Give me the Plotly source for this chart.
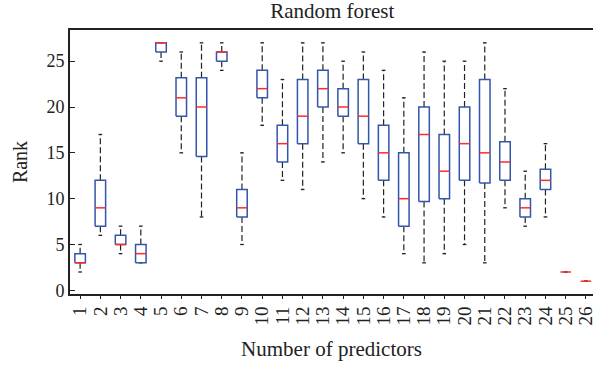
import plotly.graph_objects as go

categories = list(range(1, 27))
mins = [2, 6, 4, 3, 25, 15, 8, 24, 5, 18, 12, 11, 14, 15, 10, 8, 4, 3, 4, 5, 3, 9, 7, 8, 2, 1]
q1s = [3, 7, 5, 3, 26, 19, 14.6, 25, 8, 21, 14, 16, 20, 19, 16, 12, 7, 9.7, 10, 12, 11.7, 12, 8, 11, 2, 1]
medians = [3, 9, 5, 4, 27, 21, 20, 26, 9, 22, 16, 19, 22, 20, 19, 15, 10, 17, 13, 16, 15, 14, 9, 12, 2, 1]
q3s = [4, 12, 6, 5, 27, 23.2, 23.2, 26, 11, 24, 18, 23, 24, 22, 23, 18, 15, 20, 17, 20, 23, 16.2, 10, 13.2, 2, 1]
maxs = [5, 17, 7, 7, 27, 26, 27, 27, 15, 27, 23, 27, 27, 25, 26, 24, 21, 26, 25, 25, 27, 22, 13, 16, 2, 1]
y_ticks = [0, 5, 10, 15, 20, 25]

BOX_HW = 0.26
CAP_HW = 0.09
FONT = "Liberation Serif"

wx, wy, cx, cy, bx, by, mx, my = [], [], [], [], [], [], [], []
for c, lo, a, m, b, hi in zip(categories, mins, q1s, medians, q3s, maxs):
    if hi > b:
        wx += [c, c, None]; wy += [b, hi, None]
    if lo < a:
        wx += [c, c, None]; wy += [a, lo, None]
    cx += [c - CAP_HW, c + CAP_HW, None, c - CAP_HW, c + CAP_HW, None]
    cy += [hi, hi, None, lo, lo, None]
    if b > a:
        bx += [c - BOX_HW, c + BOX_HW, c + BOX_HW, c - BOX_HW, c - BOX_HW, None]
        by += [a, a, b, b, a, None]
    mx += [c - BOX_HW, c + BOX_HW, None]
    my += [m, m, None]

fig = go.Figure()
fig.add_trace(go.Scatter(x=wx, y=wy, mode="lines", hoverinfo="skip",
                         line=dict(color="#222222", width=1.2, dash="6px,3px")))
fig.add_trace(go.Scatter(x=cx, y=cy, mode="lines", hoverinfo="skip",
                         line=dict(color="#222222", width=1.3)))
fig.add_trace(go.Scatter(x=bx, y=by, mode="lines", hoverinfo="skip",
                         line=dict(color="#3355aa", width=1.5)))
fig.add_trace(go.Scatter(x=mx, y=my, mode="lines", hoverinfo="skip",
                         line=dict(color="#ff2a2a", width=1.5)))

fig.update_layout(
    width=596, height=366,
    margin=dict(l=70, r=0, t=30, b=72),
    paper_bgcolor="white", plot_bgcolor="white",
    showlegend=False,
    font=dict(family=FONT, color="#222222"),
    title=dict(text="Random forest", x=0.5575, xanchor="center", y=0.99, yanchor="top",
               font=dict(family=FONT, size=21, color="#222222")),
    xaxis=dict(
        range=[0.5, 26.35], tickmode="array", tickvals=categories,
        ticktext=[str(c) for c in categories], tickangle=-90,
        ticks="outside", ticklen=3, tickcolor="#222222",
        ticklabeloverflow="allow",
        showline=True, linecolor="#222222", linewidth=1.8, mirror=True,
        showgrid=False, zeroline=False,
        tickfont=dict(family=FONT, size=19, color="#222222"),
        title=dict(text="Number of predictors", standoff=17,
                   font=dict(family=FONT, size=21, color="#222222")),
    ),
    yaxis=dict(
        range=[-0.4, 28.4], tickmode="array", tickvals=y_ticks,
        ticks="inside", ticklen=5, tickcolor="#222222",
        showline=True, linecolor="#222222", linewidth=1.8,
        showgrid=False, zeroline=False,
        tickfont=dict(family=FONT, size=18, color="#222222"),
        title=dict(text="Rank", standoff=14,
                   font=dict(family=FONT, size=20, color="#222222")),
    ),
)

fig.write_html("out.html")
